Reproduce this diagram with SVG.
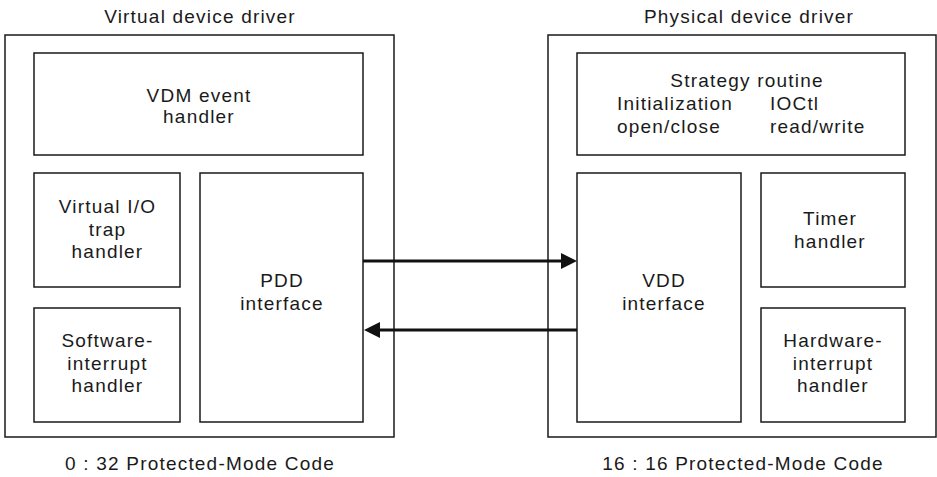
<svg xmlns="http://www.w3.org/2000/svg" width="937" height="477" viewBox="0 0 937 477">
<style>
  .box { fill: #ffffff; stroke: #1a1a1a; stroke-width: 1.5; }
  .t { font-family: "Liberation Sans", Arial, sans-serif; font-size: 19px; letter-spacing: 1.2px; fill: #1a1a1a; }
  .c { text-anchor: middle; }
  .conn { stroke: #111111; stroke-width: 3; fill: none; }
</style>
<defs>
  <marker id="ah" markerUnits="userSpaceOnUse" markerWidth="16" markerHeight="16" refX="2" refY="8" orient="auto">
    <path d="M0,0 L16,8 L0,16 z" fill="#111111"/>
  </marker>
</defs>
<rect width="937" height="477" fill="#ffffff"/>

<g id="vdd-driver">
  <rect class="box" x="5" y="35" width="389" height="402"/>
  <text class="t c" x="200" y="23">Virtual device driver</text>
  <text class="t c" x="200" y="470">0 : 32 Protected-Mode Code</text>
</g>
<g id="vdm-event-handler">
  <rect class="box" x="34" y="53" width="329" height="102"/>
  <text class="t c" x="199" y="102">VDM event</text>
  <text class="t c" x="199" y="123">handler</text>
</g>
<g id="virtual-io-trap">
  <rect class="box" x="34" y="173" width="146" height="114"/>
  <text class="t c" x="107.5" y="213">Virtual I/O</text>
  <text class="t c" x="107.5" y="235.5">trap</text>
  <text class="t c" x="107.5" y="258">handler</text>
</g>
<g id="software-interrupt">
  <rect class="box" x="34" y="308" width="146" height="114"/>
  <text class="t c" x="107.5" y="347">Software-</text>
  <text class="t c" x="107.5" y="369.5">interrupt</text>
  <text class="t c" x="107.5" y="392">handler</text>
</g>
<g id="pdd-interface">
  <rect class="box" x="200" y="173" width="163" height="249"/>
  <text class="t c" x="282" y="287">PDD</text>
  <text class="t c" x="282" y="310">interface</text>
</g>

<g id="pdd-driver">
  <rect class="box" x="548" y="35" width="388" height="402"/>
  <text class="t c" x="749" y="23">Physical device driver</text>
  <text class="t c" x="743" y="470">16 : 16 Protected-Mode Code</text>
</g>
<g id="strategy-routine">
  <rect class="box" x="577" y="53" width="328" height="102"/>
  <text class="t c" x="747" y="87">Strategy routine</text>
  <text class="t" x="617" y="110">Initialization</text>
  <text class="t" x="770" y="110">IOCtl</text>
  <text class="t" x="617" y="133">open/close</text>
  <text class="t" x="770" y="133">read/write</text>
</g>
<g id="vdd-interface">
  <rect class="box" x="577" y="173" width="164" height="249"/>
  <text class="t c" x="664" y="287">VDD</text>
  <text class="t c" x="664" y="310">interface</text>
</g>
<g id="timer-handler">
  <rect class="box" x="761" y="173" width="144" height="114"/>
  <text class="t c" x="830" y="225">Timer</text>
  <text class="t c" x="830" y="247.5">handler</text>
</g>
<g id="hardware-interrupt">
  <rect class="box" x="761" y="308" width="144" height="114"/>
  <text class="t c" x="833" y="347">Hardware-</text>
  <text class="t c" x="833" y="369.5">interrupt</text>
  <text class="t c" x="833" y="392">handler</text>
</g>

<g id="connectors">
  <line class="conn" x1="363" y1="261" x2="563" y2="261" marker-end="url(#ah)"/>
  <line class="conn" x1="577" y1="330" x2="378" y2="330" marker-end="url(#ah)"/>
</g>
</svg>
